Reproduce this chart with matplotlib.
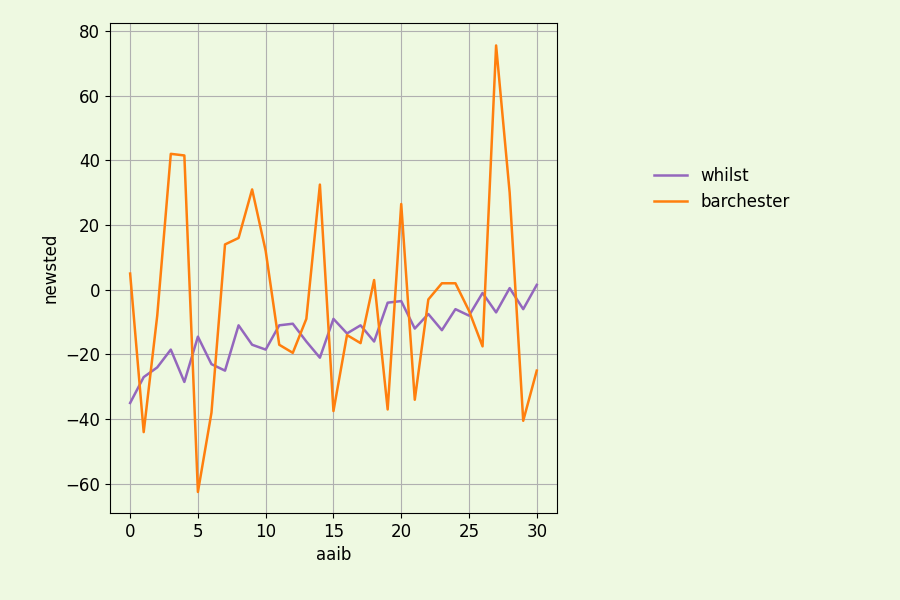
import matplotlib
matplotlib.use("Agg")
import matplotlib.pyplot as plt

x = list(range(31))
whilst = [-35, -27, -24, -18.5, -28.5, -14.5, -23, -25, -11, -17, -18.5, -11, -10.5, -16, -21, -9,
          -13.5, -11, -16, -4, -3.5, -12, -7.5, -12.5, -6, -8, -1, -7, 0.5, -6, 1.5]
barchester = [5, -44, -8, 42, 41.5, -62.5, -38, 14, 16, 31, 12, -17, -19.5, -9, 32.5, -37.5,
              -14, -16.5, 3, -37, 26.5, -34, -3, 2, 2, -6.5, -17.5, 75.5, 30, -40.5, -25]

bg = "#eef9e1"
fig = plt.figure(figsize=(9, 6), dpi=100, facecolor=bg)
ax = fig.add_axes([0.122, 0.145, 0.497, 0.817])
ax.set_facecolor(bg)
ax.plot(x, whilst, color="#9467bd", label="whilst", lw=1.8)
ax.plot(x, barchester, color="#ff7f0e", label="barchester", lw=1.8)
ax.grid(True, color="#b0b0b0")
ax.set_axisbelow(True)
ax.set_ylim(-69, 82.5)
ax.set_xlim(-1.5, 31.5)
ax.set_xlabel("aaib", fontsize=12)
ax.set_ylabel("newsted", fontsize=12)
ax.tick_params(labelsize=12)
fig.legend(loc="center left", bbox_to_anchor=(0.71, 0.685), frameon=False, fontsize=12)
fig.savefig("out.png", facecolor=bg)
